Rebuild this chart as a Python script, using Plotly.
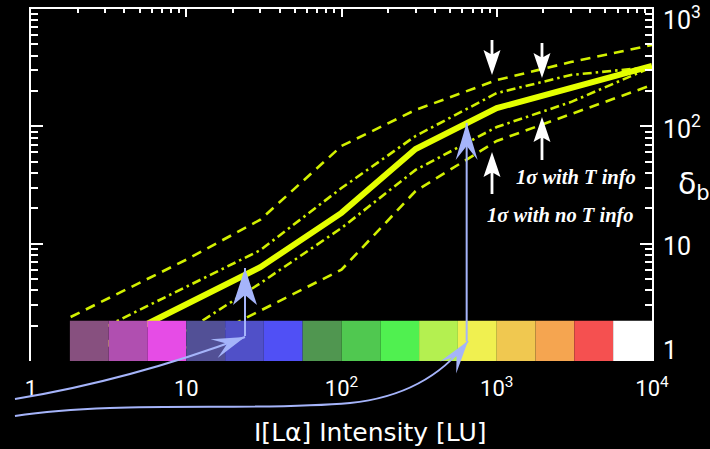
import math
import plotly.graph_objects as go

# ---------------- data ----------------
x_intensity = [1.8, 3, 10, 30, 100, 300, 1000, 3000, 10000]
delta_b_best = [None, 1.37, 3.0, 6.3, 18.3, 64, 143, 212, 327]
sigma_noT_upper = [2.37, 3.3, 7.3, 16, 68, 138, 248, 353, 493]
sigma_T_upper = [None, 1.95, 4.27, 8.8, 29.8, 82.7, 192, 274, 320]
sigma_T_lower = [None, None, 1.8, 4.6, 13.6, 42.5, 98.7, 161, 320]
sigma_noT_lower = [None, None, 1.29, 2.67, 6.0, 28.1, 75, 127, 225]

color_bin_edges = [1.78, 3.16, 5.62, 10, 17.8, 31.6, 56.2, 100, 178, 316,
                   562, 1000, 1780, 3160, 5620, 10000]
color_bin_colors = ["#87507f", "#b04fb0", "#e64ce6", "#525096", "#5050c8",
                    "#5050f5", "#509650", "#50c850", "#50f050", "#b4f050",
                    "#f0f050", "#f0c850", "#f5a550", "#f55050", "#ffffff"]
colorbar_bottom = 1.0
colorbar_top = 2.2

x_tickvals = [1, 10, 100, 1000, 10000]
x_ticktext = ["1", "10", "10<sup>2</sup>", "10<sup>3</sup>", "10<sup>4</sup>"]
x_minor = [2, 3, 4, 5, 6, 7, 8, 9, 20, 30, 40, 50, 60, 70, 80, 90,
           200, 300, 400, 500, 600, 700, 800, 900,
           2000, 3000, 4000, 5000, 6000, 7000, 8000, 9000]
y_tickvals = [1, 10, 100, 1000]
y_ticktext = ["1", "10", "10<sup>2</sup>", "10<sup>3</sup>"]
y_label_shift = [11, -3, -1, -9]
y_minor = [2, 3, 4, 5, 6, 7, 8, 9, 20, 30, 40, 50, 60, 70, 80, 90,
           200, 300, 400, 500, 600, 700, 800, 900]

ref_levels = [122, 6.84]
ref_x_end = [625, 23.9]

lookup_x = [23.9, 640]
lookup_tip_y = [6.2, 107]
lookup_tail_y = [1.63, 1.48]

info_arrow_x = [932, 1956, 1956, 932]
info_arrow_tip = [274, 258, 120, 60.4]
info_arrow_dir = ["down", "down", "up", "up"]
info_arrow_len = [35, 35, 43, 42]

# ---------------- geometry / style ----------------
W, H = 710, 449
PL, PR, PT, PB = 31, 652, 9, 361
PW, PH = PR - PL, PB - PT

YEL = "#e4ff00"
YEL2 = "#d2f000"
PURPLE = "#a878e0"
BLUE = "#a5b4fa"
SANS = "Roboto, Open Sans, sans-serif"
WIDE = "DejaVu Sans, Verdana, sans-serif"


def px2paper(px, py):
    return ((px - PL) / PW, (PB - py) / PH)


def head_pts(tx, ty, dx, dy, L, Wd, N):
    n = math.hypot(dx, dy)
    dx, dy = dx / n, dy / n
    nx, ny = -dy, dx
    return [(tx, ty),
            (tx - L * dx + Wd * nx, ty - L * dy + Wd * ny),
            (tx - (L - N) * dx, ty - (L - N) * dy),
            (tx - L * dx - Wd * nx, ty - L * dy - Wd * ny)]


def pts_path(pts):
    s = "M %.4f,%.4f " % pts[0]
    for p in pts[1:]:
        s += "L %.4f,%.4f " % p
    return s + "Z"


def vertical_arrow_polygon(sgn, length, L, Wd, N, sw):
    """Whole arrow (shaft + notched head) in pixel units, tip at (0,0), y up.
    sgn=+1 -> arrow points down (tail above tip), -1 -> points up."""
    s = sgn  # +1: body lies at positive y
    return [(0, 0), (Wd, s * L), (sw, s * (L - N)), (sw, s * length),
            (-sw, s * length), (-sw, s * (L - N)), (-Wd, s * L)]


fig = go.Figure()

line_specs = [
    (sigma_noT_upper, YEL2, 2.6, "10px,7px"),
    (sigma_noT_lower, YEL2, 2.6, "10px,7px"),
    (sigma_T_upper, YEL2, 2.6, "9px,4px,2.5px,4px"),
    (sigma_T_lower, YEL2, 2.6, "9px,4px,2.5px,4px"),
    (delta_b_best, YEL, 6, "solid"),
]
for ys, col, wd, dash in line_specs:
    fig.add_trace(go.Scatter(x=x_intensity, y=ys, mode="lines",
                             line=dict(color=col, width=wd, dash=dash),
                             connectgaps=False, showlegend=False,
                             hoverinfo="skip"))

# colour bar of intensity bins
for i, col in enumerate(color_bin_colors):
    x0, x1 = color_bin_edges[i], color_bin_edges[i + 1]
    fig.add_trace(go.Scatter(
        x=[x0, x1, x1, x0, x0],
        y=[colorbar_bottom, colorbar_bottom, colorbar_top, colorbar_top, colorbar_bottom],
        mode="lines", fill="toself", fillcolor=col, line=dict(width=0, color=col),
        showlegend=False, hoverinfo="skip"))

# dummy trace to activate the top / right axes
fig.add_trace(go.Scatter(x=[10], y=[10], xaxis="x2", yaxis="y2", mode="markers",
                         marker=dict(opacity=0), showlegend=False, hoverinfo="skip"))

shapes = []
dec_px = PW / 4.0
# horizontal reference levels (extend left of the frame)
for lev, xe in zip(ref_levels, ref_x_end):
    xe_px = PL + dec_px * math.log10(xe)
    shapes.append(dict(type="line", xref="x", yref="y", xsizemode="pixel",
                       xanchor=xe, x0=-(xe_px - 15), x1=0, y0=lev, y1=lev,
                       line=dict(color=PURPLE, width=2.5), layer="above"))

# vertical look-up arrows
head_dims = [(37, 12, 10), (37, 11, 14)]
for xv, tip, tail, hd in zip(lookup_x, lookup_tip_y, lookup_tail_y, head_dims):
    shapes.append(dict(type="line", xref="x", yref="y", x0=xv, x1=xv, y0=tail, y1=tip,
                       line=dict(color=BLUE, width=2), layer="above"))
    pts = head_pts(0, 0, 0, 1, *hd)
    shapes.append(dict(type="path", xref="x", yref="y", xsizemode="pixel",
                       ysizemode="pixel", xanchor=xv, yanchor=tip, path=pts_path(pts),
                       fillcolor=BLUE, line=dict(width=0), layer="above"))

# curved feeder arrows (decoration, pixel positions -> paper)
def pp(px, py):
    a, b = px2paper(px, py)
    return "%.4f,%.4f" % (a, b)

curve1 = "M %s Q %s %s" % (pp(15, 399), pp(130, 380), pp(245, 337))
curve2 = "M %s C %s %s %s C %s %s %s" % (pp(15, 416), pp(120, 400), pp(250, 412),
                                          pp(350, 403), pp(400, 398), pp(440, 378),
                                          pp(468, 341))
for c in (curve1, curve2):
    shapes.append(dict(type="path", xref="paper", yref="paper", path=c,
                       line=dict(color=BLUE, width=2), layer="above"))
for (tx, ty, dx, dy) in [(245, 337, 0.937, -0.35), (468, 341, 0.6, -0.8)]:
    pts = head_pts(tx, ty, dx, dy, 33, 10, 14)
    pts = [px2paper(*p) for p in pts]
    shapes.append(dict(type="path", xref="paper", yref="paper", path=pts_path(pts),
                       fillcolor=BLUE, line=dict(width=0), layer="above"))

# white sigma arrows (single polygons: shaft + notched head)
for xv, tip, d, ln in zip(info_arrow_x, info_arrow_tip, info_arrow_dir, info_arrow_len):
    sgn = 1 if d == "down" else -1
    pts = vertical_arrow_polygon(sgn, ln, 25, 8.5, 4, 1.4)
    shapes.append(dict(type="path", xref="x", yref="y", xsizemode="pixel",
                       ysizemode="pixel", xanchor=xv, yanchor=tip, path=pts_path(pts),
                       fillcolor="white", line=dict(width=0), layer="above"))

annotations = []
for v, t, s in zip(y_tickvals, y_ticktext, y_label_shift):
    annotations.append(dict(xref="paper", yref="y", x=(661 - PL) / PW, y=math.log10(v),
                            xanchor="left", yanchor="middle", yshift=s, text=t,
                            showarrow=False, font=dict(family=SANS, size=25, color="white")))
annotations.append(dict(xref="paper", yref="paper", x=(676 - PL) / PW, y=(PB - 185) / PH,
                        xanchor="left", yanchor="middle", text="δ<sub>b</sub>",
                        showarrow=False, font=dict(family=WIDE, size=30, color="white")))
annotations.append(dict(xref="paper", yref="paper", x=(370 - PL) / PW, y=(PB - 449) / PH,
                        xanchor="center", yanchor="bottom", text="I[Lα] Intensity [LU]",
                        showarrow=False, font=dict(family=WIDE, size=25, color="white")))
for txt, xr, yc in [("1σ with T info", 638, 177), ("1σ with no T info", 636, 215)]:
    annotations.append(dict(xref="paper", yref="paper", x=(xr - PL) / PW, y=(PB - yc) / PH,
                            xanchor="right", yanchor="middle",
                            text="<b><i>%s</i></b>" % txt, showarrow=False,
                            font=dict(family="Liberation Serif, serif", size=20.5,
                                      color="white")))

common_y = dict(type="log", range=[0, 3], showgrid=False, zeroline=False,
                showline=True, linecolor="white", linewidth=2,
                ticks="inside", ticklen=12, tickwidth=2, tickcolor="white",
                tickmode="array", tickvals=y_tickvals, showticklabels=False,
                minor=dict(tickmode="array", tickvals=y_minor, ticks="inside",
                           ticklen=7, tickwidth=2, tickcolor="white", showgrid=False))

fig.update_layout(
    width=W, height=H,
    margin=dict(l=PL, r=W - PR, t=PT, b=H - PB, pad=0),
    paper_bgcolor="black", plot_bgcolor="black",
    showlegend=False,
    xaxis=dict(type="log", range=[0, 4], showgrid=False, zeroline=False,
               showline=False, ticks="", tickmode="array", tickvals=x_tickvals,
               ticktext=x_ticktext, ticklabelstandoff=12,
               tickfont=dict(family=SANS, size=22, color="white")),
    xaxis2=dict(type="log", range=[0, 4], overlaying="x", side="top", anchor="y2",
                showgrid=False, zeroline=False, showline=True, linecolor="white",
                linewidth=2, ticks="inside", ticklen=8, tickwidth=2, tickcolor="white",
                tickmode="array", tickvals=x_tickvals, showticklabels=False,
                minor=dict(tickmode="array", tickvals=x_minor, ticks="inside",
                           ticklen=4, tickwidth=2, tickcolor="white", showgrid=False)),
    yaxis=common_y,
    yaxis2=dict(common_y, overlaying="y", side="right", anchor="x2"),
    shapes=shapes,
    annotations=annotations,
)

fig.write_html("out.html")
